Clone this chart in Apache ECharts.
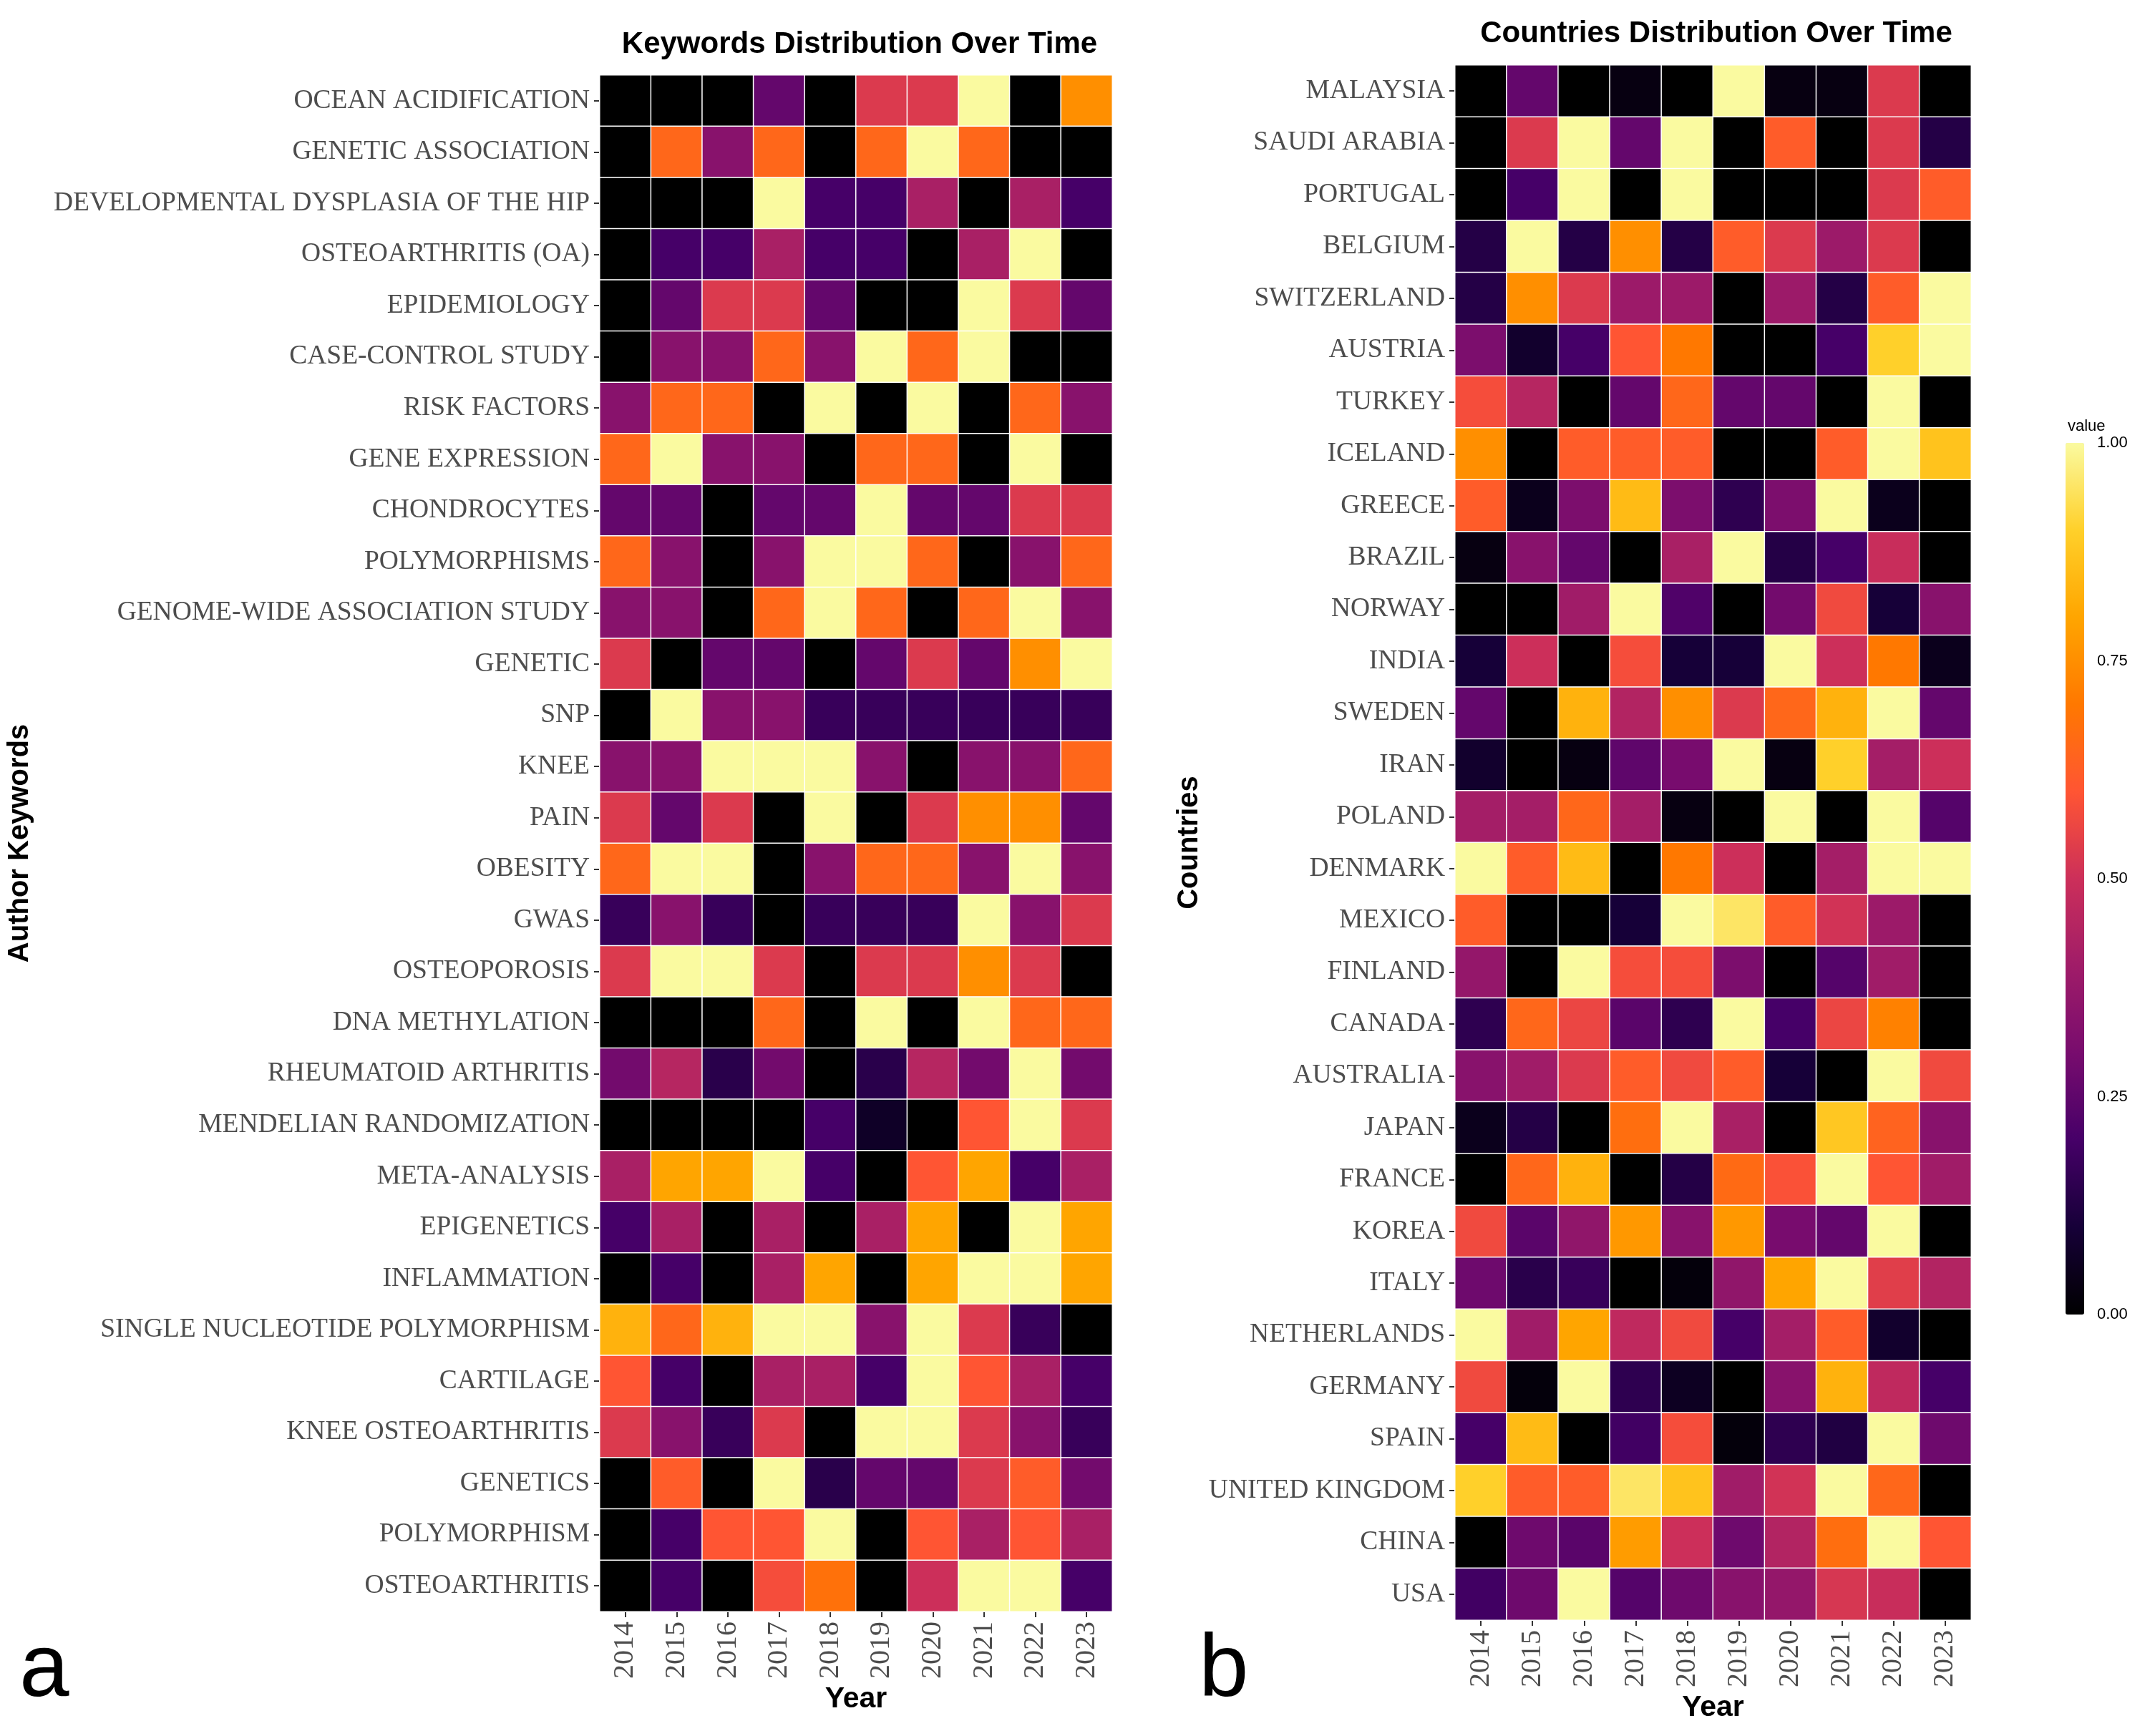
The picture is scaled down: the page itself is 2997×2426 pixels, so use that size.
<!DOCTYPE html>
<html>
<head>
<meta charset="utf-8">
<script src="https://cdn.jsdelivr.net/npm/echarts@6/dist/echarts.min.js"></script>
<style>
  html, body { margin: 0; padding: 0; background: #fff; }
  #chart { width: 2997px; height: 2426px; }
</style>
</head>
<body>
<div id="chart"></div>
<script>
// years on both x axes
var years = ['2014', '2015', '2016', '2017', '2018', '2019', '2020', '2021', '2022', '2023'];

// panel a, top to bottom
var keywords = [
  'OCEAN ACIDIFICATION', 'GENETIC ASSOCIATION', 'DEVELOPMENTAL DYSPLASIA OF THE HIP',
  'OSTEOARTHRITIS (OA)', 'EPIDEMIOLOGY', 'CASE-CONTROL STUDY', 'RISK FACTORS',
  'GENE EXPRESSION', 'CHONDROCYTES', 'POLYMORPHISMS', 'GENOME-WIDE ASSOCIATION STUDY',
  'GENETIC', 'SNP', 'KNEE', 'PAIN', 'OBESITY', 'GWAS', 'OSTEOPOROSIS', 'DNA METHYLATION',
  'RHEUMATOID ARTHRITIS', 'MENDELIAN RANDOMIZATION', 'META-ANALYSIS', 'EPIGENETICS',
  'INFLAMMATION', 'SINGLE NUCLEOTIDE POLYMORPHISM', 'CARTILAGE', 'KNEE OSTEOARTHRITIS',
  'GENETICS', 'POLYMORPHISM', 'OSTEOARTHRITIS'
];
var keywordValues = [
  [0, 0, 0, 0.26, 0, 0.53, 0.53, 1, 0, 0.75],
  [0, 0.65, 0.34, 0.65, 0, 0.65, 1, 0.65, 0, 0],
  [0, 0, 0, 1, 0.2, 0.2, 0.42, 0, 0.42, 0.2],
  [0, 0.2, 0.2, 0.42, 0.2, 0.2, 0, 0.42, 1, 0],
  [0, 0.26, 0.53, 0.53, 0.26, 0, 0, 1, 0.53, 0.26],
  [0, 0.34, 0.34, 0.65, 0.34, 1, 0.65, 1, 0, 0],
  [0.34, 0.65, 0.65, 0, 1, 0, 1, 0, 0.65, 0.34],
  [0.65, 1, 0.34, 0.34, 0, 0.65, 0.65, 0, 1, 0],
  [0.26, 0.26, 0, 0.26, 0.26, 1, 0.26, 0.26, 0.53, 0.53],
  [0.65, 0.34, 0, 0.34, 1, 1, 0.65, 0, 0.34, 0.65],
  [0.34, 0.34, 0, 0.65, 1, 0.65, 0, 0.65, 1, 0.34],
  [0.53, 0, 0.26, 0.26, 0, 0.26, 0.53, 0.26, 0.75, 1],
  [0, 1, 0.34, 0.34, 0.17, 0.17, 0.17, 0.17, 0.17, 0.17],
  [0.34, 0.34, 1, 1, 1, 0.34, 0, 0.34, 0.34, 0.65],
  [0.53, 0.26, 0.53, 0, 1, 0, 0.53, 0.75, 0.75, 0.26],
  [0.65, 1, 1, 0, 0.34, 0.65, 0.65, 0.34, 1, 0.34],
  [0.17, 0.34, 0.17, 0, 0.17, 0.17, 0.17, 1, 0.34, 0.53],
  [0.53, 1, 1, 0.53, 0, 0.53, 0.53, 0.75, 0.53, 0],
  [0, 0, 0, 0.65, 0, 1, 0, 1, 0.65, 0.65],
  [0.29, 0.45, 0.14, 0.29, 0, 0.14, 0.45, 0.29, 1, 0.29],
  [0, 0, 0, 0, 0.2, 0.07, 0, 0.6, 1, 0.53],
  [0.42, 0.8, 0.8, 1, 0.2, 0, 0.6, 0.8, 0.2, 0.42],
  [0.2, 0.42, 0, 0.42, 0, 0.42, 0.8, 0, 1, 0.8],
  [0, 0.2, 0, 0.42, 0.8, 0, 0.8, 1, 1, 0.8],
  [0.83, 0.65, 0.83, 1, 1, 0.34, 1, 0.53, 0.17, 0],
  [0.6, 0.2, 0, 0.42, 0.42, 0.2, 1, 0.6, 0.42, 0.2],
  [0.53, 0.34, 0.17, 0.53, 0, 1, 1, 0.53, 0.34, 0.17],
  [0, 0.62, 0, 1, 0.14, 0.26, 0.26, 0.53, 0.62, 0.29],
  [0, 0.2, 0.6, 0.6, 1, 0, 0.6, 0.42, 0.6, 0.42],
  [0, 0.2, 0, 0.58, 0.68, 0, 0.5, 1, 1, 0.2]
];

// panel b, top to bottom
var countries = [
  'MALAYSIA', 'SAUDI ARABIA', 'PORTUGAL', 'BELGIUM', 'SWITZERLAND', 'AUSTRIA', 'TURKEY',
  'ICELAND', 'GREECE', 'BRAZIL', 'NORWAY', 'INDIA', 'SWEDEN', 'IRAN', 'POLAND', 'DENMARK',
  'MEXICO', 'FINLAND', 'CANADA', 'AUSTRALIA', 'JAPAN', 'FRANCE', 'KOREA', 'ITALY',
  'NETHERLANDS', 'GERMANY', 'SPAIN', 'UNITED KINGDOM', 'CHINA', 'USA'
];
var countryValues = [
  [0, 0.26, 0, 0.03, 0, 1, 0.03, 0.03, 0.53, 0],
  [0, 0.53, 1, 0.26, 1, 0, 0.62, 0, 0.53, 0.13],
  [0, 0.2, 1, 0, 1, 0, 0, 0, 0.53, 0.62],
  [0.13, 1, 0.13, 0.75, 0.13, 0.62, 0.53, 0.39, 0.53, 0],
  [0.13, 0.75, 0.53, 0.39, 0.39, 0, 0.39, 0.13, 0.62, 1],
  [0.31, 0.08, 0.2, 0.6, 0.7, 0, 0, 0.2, 0.9, 1],
  [0.58, 0.45, 0, 0.26, 0.65, 0.26, 0.26, 0, 1, 0],
  [0.75, 0, 0.62, 0.62, 0.62, 0, 0, 0.62, 1, 0.87],
  [0.62, 0.05, 0.31, 0.85, 0.31, 0.15, 0.31, 1, 0.05, 0],
  [0.03, 0.34, 0.26, 0, 0.42, 1, 0.13, 0.2, 0.49, 0],
  [0, 0, 0.4, 1, 0.22, 0, 0.29, 0.57, 0.1, 0.34],
  [0.1, 0.5, 0, 0.58, 0.1, 0.1, 1, 0.5, 0.7, 0.05],
  [0.26, 0, 0.83, 0.44, 0.75, 0.53, 0.65, 0.83, 1, 0.26],
  [0.08, 0, 0.03, 0.25, 0.3, 1, 0.03, 0.9, 0.41, 0.5],
  [0.41, 0.41, 0.65, 0.41, 0.03, 0, 1, 0, 1, 0.23],
  [1, 0.62, 0.85, 0, 0.7, 0.5, 0, 0.41, 1, 1],
  [0.62, 0, 0, 0.1, 1, 0.95, 0.62, 0.51, 0.39, 0],
  [0.37, 0, 1, 0.58, 0.58, 0.31, 0, 0.23, 0.4, 0],
  [0.15, 0.65, 0.56, 0.24, 0.15, 1, 0.2, 0.56, 0.72, 0],
  [0.34, 0.4, 0.53, 0.62, 0.57, 0.62, 0.1, 0, 1, 0.57],
  [0.05, 0.13, 0, 0.67, 1, 0.42, 0, 0.88, 0.64, 0.34],
  [0, 0.65, 0.83, 0, 0.13, 0.66, 0.59, 1, 0.6, 0.4],
  [0.57, 0.24, 0.36, 0.77, 0.34, 0.77, 0.3, 0.26, 1, 0],
  [0.28, 0.14, 0.17, 0, 0.02, 0.36, 0.8, 1, 0.54, 0.44],
  [1, 0.4, 0.8, 0.47, 0.57, 0.2, 0.41, 0.62, 0.08, 0],
  [0.57, 0.02, 1, 0.15, 0.06, 0, 0.34, 0.83, 0.47, 0.2],
  [0.2, 0.85, 0, 0.19, 0.58, 0.02, 0.15, 0.12, 1, 0.28],
  [0.9, 0.62, 0.62, 0.95, 0.87, 0.4, 0.51, 1, 0.65, 0],
  [0, 0.28, 0.24, 0.78, 0.5, 0.28, 0.44, 0.67, 1, 0.6],
  [0.19, 0.28, 1, 0.23, 0.28, 0.34, 0.37, 0.52, 0.49, 0]
];

// colour bar ticks
var legendTicks = [0, 0.25, 0.5, 0.75, 1];

// inferno-like ramp, 0 -> 1
var ramp = ['#000000', '#160038', '#460068', '#780c6e', '#a01c68', '#cc2f5a',
            '#ff5533', '#ff7800', '#ffa500', '#ffd02a', '#fafaa0'];

function toCells(rows) {
  var out = [];
  for (var r = 0; r < rows.length; r++) {
    for (var c = 0; c < rows[r].length; c++) {
      out.push([c, r, rows[r][c]]);
    }
  }
  return out;
}

var chart = echarts.init(document.getElementById('chart'));

var serif = 'Liberation Serif';
var sans = 'Liberation Sans';
var tickColor = '#333';
var labelColor = '#4d4d4d';

function catX(gridIndex) {
  return {
    gridIndex: gridIndex,
    type: 'category',
    data: years,
    name: 'Year',
    nameLocation: 'middle',
    nameGap: 96,
    nameTextStyle: { fontFamily: sans, fontWeight: 'bold', fontSize: 41, color: '#000' },
    axisLine: { show: false },
    axisTick: { show: true, alignWithLabel: true, length: 8, lineStyle: { color: tickColor, width: 2 } },
    axisLabel: { rotate: 90, margin: 14, fontFamily: serif, fontSize: 40, color: labelColor },
    splitLine: { show: false }
  };
}

function catY(gridIndex, cats, name, gap) {
  return {
    gridIndex: gridIndex,
    type: 'category',
    inverse: true,
    data: cats,
    name: name,
    nameLocation: 'middle',
    nameRotate: 90,
    nameGap: gap,
    nameTextStyle: { fontFamily: sans, fontWeight: 'bold', fontSize: 40, color: '#000' },
    axisLine: { show: false },
    axisTick: { show: true, alignWithLabel: true, length: 8, lineStyle: { color: tickColor, width: 2 } },
    axisLabel: { margin: 14, fontFamily: serif, fontSize: 37.5, color: labelColor },
    splitLine: { show: false }
  };
}

var option = {
  backgroundColor: '#fff',
  animation: false,
  title: [
    { text: 'Keywords Distribution Over Time', left: 1196, top: 36, textAlign: 'center',
      textStyle: { fontFamily: sans, fontWeight: 'bold', fontSize: 42, color: '#000' } },
    { text: 'Countries Distribution Over Time', left: 2393, top: 21, textAlign: 'center',
      textStyle: { fontFamily: sans, fontWeight: 'bold', fontSize: 42, color: '#000' } },
    { text: 'value', left: 2884, top: 580,
      textStyle: { fontFamily: sans, fontWeight: 'normal', fontSize: 22, color: '#000' } },
    { text: 'a', left: 22, top: 2268,
      textStyle: { fontFamily: sans, fontWeight: 'normal', fontSize: 125, color: '#000' } },
    { text: 'b', left: 1670, top: 2268,
      textStyle: { fontFamily: sans, fontWeight: 'normal', fontSize: 125, color: '#000' } }
  ],
  grid: [
    { left: 838, top: 105, width: 716, height: 2147 },
    { left: 2033, top: 91, width: 721, height: 2173 },
    { left: 2886, top: 619, width: 26, height: 1218 }
  ],
  xAxis: [
    catX(0),
    catX(1),
    { gridIndex: 2, type: 'value', min: 0, max: 1, show: false }
  ],
  yAxis: [
    catY(0, keywords, 'Author Keywords', 790),
    catY(1, countries, 'Countries', 351),
    {
      gridIndex: 2, type: 'value', min: 0, max: 1, interval: 0.25, position: 'right',
      axisLine: { show: false },
      axisTick: { show: true, inside: true, length: 6, lineStyle: { color: '#fff', width: 2 } },
      axisLabel: {
        margin: 18, fontFamily: sans, fontSize: 22, color: '#000',
        formatter: function (v) {
          return legendTicks.indexOf(v) >= 0 ? v.toFixed(2) : '';
        }
      },
      splitLine: { show: false },
      z: 10
    }
  ],
  visualMap: {
    type: 'continuous',
    min: 0,
    max: 1,
    seriesIndex: [0, 1],
    calculable: false,
    orient: 'vertical',
    left: 2881,
    top: 614,
    padding: 5,
    itemWidth: 26,
    itemHeight: 1218,
    text: null,
    showLabel: false,
    inRange: { color: ramp }
  },
  series: [
    {
      type: 'heatmap',
      xAxisIndex: 0,
      yAxisIndex: 0,
      data: toCells(keywordValues),
      itemStyle: { borderColor: '#fff', borderWidth: 1.5 },
      emphasis: { disabled: true }
    },
    {
      type: 'heatmap',
      xAxisIndex: 1,
      yAxisIndex: 1,
      data: toCells(countryValues),
      itemStyle: { borderColor: '#fff', borderWidth: 1.5 },
      emphasis: { disabled: true }
    }
  ]
};

chart.setOption(option);
</script>
</body>
</html>
